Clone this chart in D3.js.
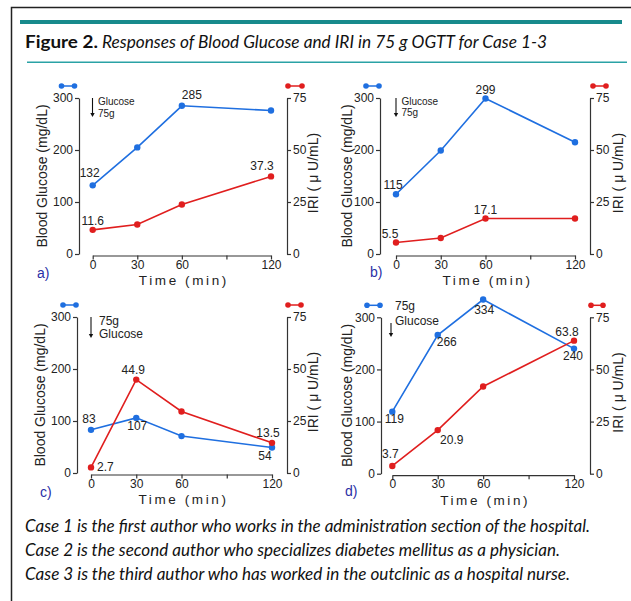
<!DOCTYPE html>
<html>
<head>
<meta charset="utf-8">
<script src="https://cdn.jsdelivr.net/npm/d3@7"></script>
<style>
body { margin: 0; background: #fff; }
svg { display: block; }
.chart text { font-family: "Liberation Sans", Arial, sans-serif; fill: #222; }
.cap { font-family: Lato, "Open Sans", sans-serif; fill: #111; }
</style>
</head>
<body>
<svg id="fig" width="631" height="601"></svg>
<script>
const times = [0, 30, 60, 120]
const timeTicks = [0, 30, 60, 90, 120]
const timeTickLabels = ['0', '30', '60', '', '120']
const glucoseTicks = [0, 100, 200, 300]
const iriTicks = [0, 25, 50, 75]

const glucoseA = [132, 205, 285, 276]
const iriA = [11.6, 14.2, 23.8, 37.3]
const glucoseB = [115, 199, 299, 215]
const iriB = [5.5, 7.7, 17.1, 17.1]
const glucoseC = [83, 106, 71, 49]
const iriC = [2.7, 44.9, 29.6, 14.5]
const glucoseD = [119, 266, 334, 240]
const iriD = [3.7, 20.9, 41.8, 63.8]

// value labels: series, point index, text
const labelsA = [['g', 0, '132'], ['g', 2, '285'], ['i', 0, '11.6'], ['i', 3, '37.3']]
const labelsB = [['g', 0, '115'], ['g', 2, '299'], ['i', 0, '5.5'], ['i', 2, '17.1']]
const labelsC = [['g', 0, '83'], ['g', 1, '107'], ['i', 1, '44.9'], ['i', 0, '2.7'], ['i', 3, '13.5'], ['g', 3, '54']]
const labelsD = [['g', 0, '119'], ['g', 1, '266'], ['g', 2, '334'], ['g', 3, '240'], ['i', 3, '63.8'], ['i', 1, '20.9'], ['i', 0, '3.7']]

const panelNames = ['a)', 'b)', 'c)', 'd)']
const doseNotes = [['Glucose', '75g'], ['Glucose', '75g'], ['75g', 'Glucose'], ['75g', 'Glucose']]
const titleBold = 'Figure 2.'
const titleRest = 'Responses of Blood Glucose and IRI in 75 g OGTT for Case 1-3'
const captionLines = [
	'Case 1 is the first author who works in the administration section of the hospital.',
	'Case 2 is the second author who specializes diabetes mellitus as a physician.',
	'Case 3 is the third author who has worked in the outclinic as a hospital nurse.'
]

const blue = '#1f6fe0'
const red = '#e01e1e'
const axisColor = '#333'

const panels = [
	{ glucose: glucoseA, iri: iriA, labels: labelsA,
		left: 79, right: 287, x0: 92.7, x1: 271, top: 98, bottom: 254, yTitleX: 42, iriTitleX: 313,
		offsets: [[-3, -8], [10, -7], [0, -5], [-9, -6]],
		note: { ax: 92.5, ay1: 98, ay2: 117, tx: 98, ty: [105, 117], size: 10 },
		nameX: 37, nameY: 278, blueG: [-17.5, -4.5], redG: [1, 15] },
	{ glucose: glucoseB, iri: iriB, labels: labelsB,
		left: 380, right: 590, x0: 396, x1: 575, top: 98, bottom: 254, yTitleX: 347, iriTitleX: 618,
		offsets: [[-3, -5], [0, -5], [-6, -5], [0, -4]],
		note: { ax: 396, ay1: 98, ay2: 117, tx: 401.5, ty: [104.5, 116], size: 10 },
		nameX: 370, nameY: 277, blueG: [-14, -1], redG: [3, 16] },
	{ glucose: glucoseC, iri: iriC, labels: labelsC,
		left: 77, right: 287, x0: 91, x1: 272, top: 317, bottom: 473, yTitleX: 40, iriTitleX: 313,
		offsets: [[-2, -7], [1, 12], [-3, -6], [6, 4, 'start'], [-4, -6], [-7, 12]],
		note: { ax: 91, ay1: 317, ay2: 338, tx: 99, ty: [325, 338], size: 12 },
		nameX: 40, nameY: 497, blueG: [-14, -1], redG: [1, 14] },
	{ glucose: glucoseD, iri: iriD, labels: labelsD,
		left: 381, right: 590, x0: 392.3, x1: 574, top: 317.3, bottom: 473.7, yTitleX: 347, iriTitleX: 618,
		offsets: [[2, 11], [9, 11], [1, 14], [-1, 11], [-7, -5], [14, 14], [-2, -8]],
		note: { ax: 391, ay1: 323, ay2: 337, tx: 395, ty: [310, 325], size: 12 },
		nameX: 345, nameY: 496, blueG: [-14, -1], redG: [1, 13] }
]

const svg = d3.select('#fig')

// frame and title
svg.append('path').attr('d', 'M11.5,601V7.5H631').attr('fill', 'none').attr('stroke', '#222').attr('stroke-width', 1.5)
svg.append('rect').attr('x', 20).attr('y', 20).attr('width', 602).attr('height', 4).attr('fill', '#178a8c')
svg.append('rect').attr('x', 27).attr('y', 61.5).attr('width', 600).attr('height', 1.5).attr('fill', '#2aa2a5')

svg.append('text').attr('class', 'cap').attr('x', 25).attr('y', 47.5)
	.style('font-size', '16.5px').style('font-weight', 700)
	.attr('textLength', 73).attr('lengthAdjust', 'spacingAndGlyphs').text(titleBold)
svg.append('text').attr('class', 'cap').attr('x', 102).attr('y', 47.5)
	.style('font-size', '16.5px').style('font-style', 'italic')
	.attr('textLength', 445).attr('lengthAdjust', 'spacingAndGlyphs').text(titleRest)

const captionEnds = [590, 560, 570]
captionLines.forEach((line, i) => {
	svg.append('text').attr('class', 'cap').attr('x', 25).attr('y', 532 + i * 24)
		.style('font-size', '17px').style('font-style', 'italic')
		.attr('textLength', captionEnds[i] - 25).attr('lengthAdjust', 'spacingAndGlyphs').text(line)
})

const chart = svg.append('g').attr('class', 'chart')

function styleAxis(g) {
	g.select('.domain').attr('stroke', axisColor).attr('stroke-width', 1.2)
	g.selectAll('.tick line').attr('stroke', axisColor).attr('stroke-width', 1.2)
	g.selectAll('.tick text').style('font-size', '12px').attr('fill', '#222')
	g.attr('font-family', null)
}

function renderPanel(p, index) {
	const g = chart.append('g')
	const x = d3.scaleLinear().domain([0, 120]).range([p.x0, p.x1])
	const yG = d3.scaleLinear().domain([0, 300]).range([p.bottom, p.top])
	const yI = d3.scaleLinear().domain([0, 75]).range([p.bottom, p.top])

	g.append('g').attr('transform', `translate(${p.left},0)`)
		.call(d3.axisLeft(yG).tickValues(glucoseTicks).tickSize(4).tickSizeOuter(0).tickPadding(2))
		.call(styleAxis)
	g.append('g').attr('transform', `translate(${p.right},0)`)
		.call(d3.axisRight(yI).tickValues(iriTicks).tickSize(4).tickSizeOuter(0).tickPadding(2))
		.call(styleAxis)
	g.append('g').attr('transform', `translate(0,${p.bottom + 1.5})`)
		.call(d3.axisBottom(x).tickValues(timeTicks).tickSize(4).tickSizeOuter(0).tickPadding(0.5)
			.tickFormat((d, i) => timeTickLabels[i]))
		.call(styleAxis)

	g.append('text').attr('x', (p.x0 + p.x1) / 2 + 2).attr('y', p.bottom + 31)
		.attr('text-anchor', 'middle').style('font-size', '13.5px').style('letter-spacing', '2.6px')
		.text('Time (min)')

	const midY = (p.top + p.bottom) / 2
	g.append('text').attr('transform', `translate(${p.yTitleX + 5},${midY}) rotate(-90)`)
		.attr('text-anchor', 'middle').style('font-size', '14px').text('Blood Glucose (mg/dL)')
	g.append('text').attr('transform', `translate(${p.iriTitleX + 5},${midY - 3}) rotate(-90)`)
		.attr('text-anchor', 'middle').style('font-size', '14px').text('IRI ( \u03bc U/mL)')

	g.append('text').attr('x', p.nameX).attr('y', p.nameY).style('font-size', '14px')
		.style('fill', '#2b2fa6').text(panelNames[index])

	// legend glyphs
	const glyph = (x1, x2, y, color) => {
		g.append('line').attr('x1', x1).attr('x2', x2).attr('y1', y).attr('y2', y)
			.attr('stroke', color).attr('stroke-width', 1.5)
		g.selectAll(null).data([x1, x2]).enter().append('circle')
			.attr('cx', d => d).attr('cy', y).attr('r', 2.8).attr('fill', color)
	}
	glyph(p.left + p.blueG[0], p.left + p.blueG[1], p.top - 12, blue)
	glyph(p.right + p.redG[0], p.right + p.redG[1], p.top - 12, red)

	// glucose dose note
	const n = p.note
	g.append('line').attr('x1', n.ax).attr('x2', n.ax).attr('y1', n.ay1).attr('y2', n.ay2 - 3)
		.attr('stroke', '#111').attr('stroke-width', 1.1)
	g.append('path').attr('d', `M${n.ax - 2.2},${n.ay2 - 4}L${n.ax + 2.2},${n.ay2 - 4}L${n.ax},${n.ay2}Z`).attr('fill', '#111')
	doseNotes[index].forEach((t, i) => {
		g.append('text').attr('x', n.tx).attr('y', n.ty[i]).style('font-size', n.size + 'px').text(t)
	})

	// series
	const series = [{ key: 'g', values: p.glucose, y: yG, color: blue }, { key: 'i', values: p.iri, y: yI, color: red }]
	const line = s => d3.line().x((d, i) => x(times[i])).y(d => s.y(d))
	series.forEach(s => {
		g.append('path').datum(s.values).attr('d', line(s)).attr('fill', 'none')
			.attr('stroke', s.color).attr('stroke-width', 1.6)
		g.selectAll(null).data(s.values).enter().append('circle')
			.attr('cx', (d, i) => x(times[i])).attr('cy', d => s.y(d)).attr('r', 3.2).attr('fill', s.color)
	})

	p.labels.forEach((l, i) => {
		const s = l[0] === 'g' ? series[0] : series[1]
		const o = p.offsets[i]
		g.append('text').attr('x', x(times[l[1]]) + o[0]).attr('y', s.y(s.values[l[1]]) + o[1])
			.attr('text-anchor', o[2] || 'middle').style('font-size', '12px').text(l[2])
	})
}

panels.forEach(renderPanel)
</script>
</body>
</html>
